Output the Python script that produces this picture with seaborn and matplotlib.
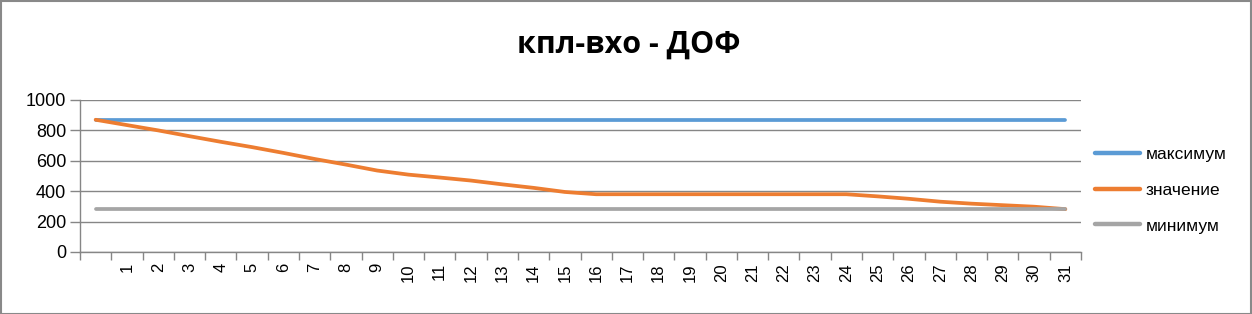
import matplotlib
matplotlib.use("Agg")
import matplotlib.pyplot as plt
from matplotlib.patches import Rectangle
import numpy as np
import pandas as pd
import seaborn as sns

categories = ["", "1", "2", "3", "4", "5", "6", "7", "8", "9", "10",
              "11", "12", "13", "14", "15", "16", "17", "18", "19", "20",
              "21", "22", "23", "24", "25", "26", "27", "28", "29", "30", "31"]
series_names = ["максимум", "значение", "минимум"]
maximum = [870, 870, 870, 870, 870, 870, 870, 870, 870, 870, 870,
           870, 870, 870, 870, 870, 870, 870, 870, 870, 870,
           870, 870, 870, 870, 870, 870, 870, 870, 870, 870, 870]
value = [870, 835, 800, 762, 725, 690, 652, 612, 575, 536, 509,
         490, 470, 445, 422, 395, 380, 380, 380, 380, 380,
         380, 380, 380, 380, 366, 350, 331, 318, 308, 298, 282]
minimum = [280, 280, 280, 280, 280, 280, 280, 280, 280, 280, 280,
           280, 280, 280, 280, 280, 280, 280, 280, 280, 280,
           280, 280, 280, 280, 280, 280, 280, 280, 280, 280, 280]
colors = ["#5B9BD5", "#ED7D31", "#A5A5A5"]
y_ticks = [0, 200, 400, 600, 800, 1000]
title = "кпл-вхо - ДОФ"

n = len(categories)
pos = list(range(n))
df = pd.DataFrame({
    "pos": pos * 3,
    "val": maximum + value + minimum,
    "series": [series_names[0]] * n + [series_names[1]] * n + [series_names[2]] * n,
})

sns.set_theme(style="white")
plt.rcParams["font.family"] = ["Liberation Sans", "DejaVu Sans"]
plt.rcParams["text.color"] = "black"
plt.rcParams["xtick.labelcolor"] = "black"
plt.rcParams["ytick.labelcolor"] = "black"

W, H = 1252, 314
fig = plt.figure(figsize=(W / 100, H / 100), dpi=100)
ax = fig.add_axes([80 / W, 1 - 252 / H, (1081 - 80) / W, (252 - 100) / H])

sns.lineplot(data=df, x="pos", y="val", hue="series", hue_order=series_names,
             palette=colors, linewidth=2.7, ax=ax, sort=False)
for ln in ax.lines:
    ln.set_solid_capstyle("round")
    ln.set_solid_joinstyle("round")

grey = "#868686"
ax.set_xlim(-0.5, n - 0.5)
ax.set_ylim(0, 1000)
ax.set_yticks(y_ticks)
ax.set_yticklabels([str(v) for v in y_ticks])
ax.yaxis.grid(True, color=grey, linewidth=1)
ax.xaxis.grid(False)
ax.set_axisbelow(True)

ax.set_xticks(np.arange(-0.5, n, 1.0))
ax.set_xticklabels([])
ax.set_xticks(pos, minor=True)
ax.set_xticklabels(categories, minor=True, rotation=90)
ax.tick_params(axis="x", which="major", length=6, width=1, color=grey, direction="out", bottom=True)
ax.tick_params(axis="x", which="minor", length=0, pad=8, labelsize=12, bottom=True, labelcolor="black")
ax.tick_params(axis="y", length=7, width=1, color=grey, direction="out", left=True, labelsize=13, pad=3,
               labelcolor="black")
ax.set_xlabel("")
ax.set_ylabel("")
for s in ["top", "right"]:
    ax.spines[s].set_visible(False)
for s in ["left", "bottom"]:
    ax.spines[s].set_color(grey)
    ax.spines[s].set_linewidth(1)

handles, labels = ax.get_legend_handles_labels()
leg = ax.legend(handles, labels, loc="center left", bbox_to_anchor=(1088 / W, 1 - 190 / H),
                bbox_transform=fig.transFigure, frameon=False, fontsize=12.5,
                handlelength=2.6, handletextpad=0.3, labelspacing=1.2, borderaxespad=0)
for t in leg.get_texts():
    t.set_color("black")
for lh in leg.get_lines():
    lh.set_linewidth(3.2)
    lh.set_solid_capstyle("round")

fig.text(629 / W, 1 - 53 / H, title, ha="center", va="baseline", color="black",
         fontsize=22, fontweight="bold", family=["Open Sans", "DejaVu Sans"])

fig.patches.append(Rectangle((0.5 / W, 0.5 / H), 1 - 1.5 / W, 1 - 1.5 / H, transform=fig.transFigure,
                             fill=False, edgecolor="#898989", linewidth=1.5))

fig.savefig("out.png", dpi=100, facecolor="white")
